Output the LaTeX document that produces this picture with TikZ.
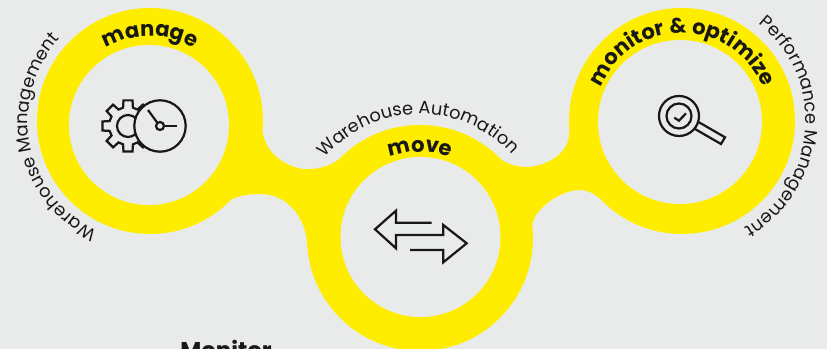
\documentclass[tikz,border=0pt]{standalone}
\usepackage{fontspec}
\setmainfont{Poppins}
\usetikzlibrary{decorations.text,calc}
\definecolor{bgGrey}{RGB}{233,235,234}
\definecolor{ringYellow}{RGB}{255,237,0}
\definecolor{inkDark}{RGB}{24,24,22}
\newcommand{\stagefont}{\fontsize{18}{18}\selectfont\bfseries}
\newcommand{\areafont}{\fontsize{15.2}{16}\selectfont}
\tikzset{ringpanel/.style={
  x=0.03cm, y=0.03cm,
  ring/.style={fill=ringYellow, draw=none},
  hole/.style={fill=bgGrey, draw=none},
  icon/.style={draw=inkDark, line width=1.9pt, line join=miter},
  iconfill/.style={icon, fill=bgGrey},
  arctext/.style={decorate, decoration={text along path, text align=center, text color=inkDark, text={##1}}},
}}
\begin{document}
\begin{tikzpicture}[ringpanel]

\useasboundingbox (0,0) rectangle (827,349);
\clip (0,0) rectangle (827,349);
\fill[bgGrey] (0,0) rectangle (827,349);

% ---- ring centres ----
\coordinate (cleft)  at (150,228);
\coordinate (cmid)   at (420,111);
\coordinate (cright) at (682,228);
\coordinate (gearc)  at (128,223);
\coordinate (clockc) at (160,223);
\coordinate (lensc)  at (679,233);

% ---- yellow body ----
\fill[ring] (cleft) circle (113);
\fill[ring] (cmid) circle (113);
\fill[ring] (cright) circle (113);
\fill[ring] (263,216) .. controls (265,198) and (283,183) .. (303,180)
  .. controls (315,179) and (328,182) .. (338,189) -- (400,150) -- (307,106)
  .. controls (306,128) and (290,155) .. (260,155)
  .. controls (248,155) and (238,153) .. (230,149) -- (180,180) -- cycle;
\fill[ring] (569,216) .. controls (570,198) and (550,183) .. (527,182)
  .. controls (515,182) and (505,186) .. (497,192) -- (440,150) -- (533,126)
  .. controls (535,140) and (560,159) .. (580,159)
  .. controls (587,159) and (593,156) .. (598,152) -- (650,190) -- cycle;

% ---- holes ----
\fill[hole] (149,224) circle (80);
\fill[hole] (420.5,112) circle (80);
\fill[hole] (680,227) circle (82);

% ---- bold labels on the rings ----
\path[arctext={|\stagefont|manage}] (cleft) ++(170:85) arc (170:10:85);
\path[arctext={|\stagefont|move}] (cmid) ++(170:86) arc (170:10:86);
\path[arctext={|\stagefont|monitor {\&} optimize}] (cright) ++(175:88) arc (175:5:88);

% ---- outer labels ----
\path[arctext={|\areafont|Warehouse Management}] (cleft) ++(281:122) arc (281:101:122);
\path[arctext={|\areafont|Warehouse Automation}] (cmid) ++(181:124) arc (181:1:124);
\path[arctext={|\areafont|Performance Management}] (cright) ++(86:124) arc (86:-94:124);

% ---- gear and clock ----
\draw[icon] (gearc) circle (11);
\draw[icon] ($(gearc)+(75:19)$) \foreach \a in {90,135,...,405} {
  -- ($(gearc)+(\a-15:19)$) -- ($(gearc)+(\a-10:26)$) -- ($(gearc)+(\a+10:26)$) -- ($(gearc)+(\a+15:19)$)
} -- cycle;
\draw[iconfill] (clockc) circle (25.7);
\draw[icon] (148,239) -- (157.5,226);
\draw[icon] (164,223) -- (177,223);
\draw[icon] (clockc) circle (4);

% ---- magnifier ----
\draw[icon] (lensc) circle (20);
\draw[icon] (lensc) circle (12.5);
\draw[icon] (674.3,231.3) -- (679,228.3) -- (686,235.7);
\draw[icon] (695,220) -- (721,205) -- (725,211.7) -- (699,226.7);

% ---- swap arrows ----
\draw[icon] (431.7,126.3) -- (396,126.3) -- (396,138.3) -- (375,119.7) -- (396,100.7) -- (396,114)
  -- (443.3,114) -- (443.3,124) -- (466.7,105.7) -- (443.3,86.7) -- (443.3,99) -- (410,99);

% ---- cut off at the lower edge ----
\node[inner sep=0pt, anchor=base, font=\fontsize{19.5}{20}\selectfont\bfseries, text=inkDark] (monitor) at (226,-10) {Monitor};

\end{tikzpicture}
\end{document}
